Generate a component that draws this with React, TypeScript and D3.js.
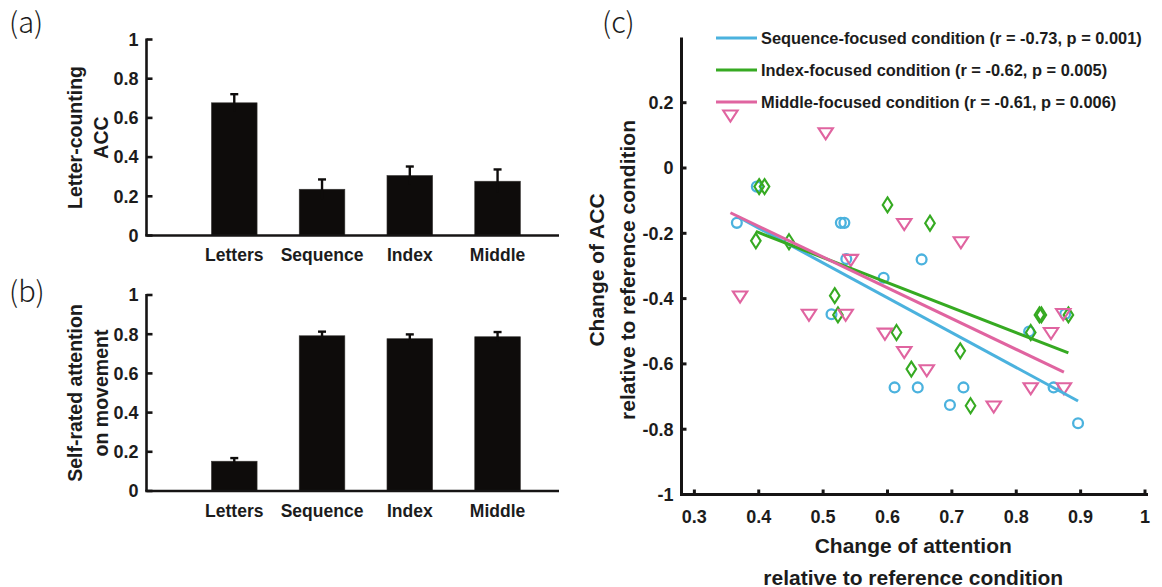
import React from 'react';
import * as d3 from 'd3';

// ---------- data ----------
const categories = ['Letters', 'Sequence', 'Index', 'Middle'];
const accMeans = [0.677, 0.236, 0.306, 0.277];
const accErrors = [0.044, 0.05, 0.046, 0.06];
const attnMeans = [0.152, 0.792, 0.777, 0.787];
const attnErrors = [0.016, 0.021, 0.022, 0.024];
const barTicks = [0, 0.2, 0.4, 0.6, 0.8, 1];

const seqX = [0.366, 0.397, 0.5275, 0.533, 0.536, 0.653, 0.513, 0.594, 0.611, 0.647, 0.718, 0.697, 0.876, 0.82, 0.858, 0.896];
const seqY = [-0.168, -0.057, -0.168, -0.168, -0.279, -0.28, -0.448, -0.336, -0.672, -0.672, -0.672, -0.726, -0.447, -0.501, -0.672, -0.782];
const idxX = [0.4006, 0.409, 0.3955, 0.447, 0.6, 0.666, 0.518, 0.523, 0.614, 0.637, 0.713, 0.729, 0.836, 0.839, 0.881, 0.8225];
const idxY = [-0.057, -0.057, -0.223, -0.226, -0.113, -0.169, -0.391, -0.45, -0.504, -0.616, -0.56, -0.728, -0.45, -0.45, -0.45, -0.504];
const midX = [0.356, 0.504, 0.543, 0.626, 0.714, 0.371, 0.478, 0.535, 0.596, 0.626, 0.661, 0.765, 0.873, 0.854, 0.8225, 0.874];
const midY = [0.16, 0.106, -0.282, -0.172, -0.228, -0.394, -0.45, -0.45, -0.508, -0.564, -0.62, -0.731, -0.448, -0.506, -0.675, -0.675];

const legendLabels = [
  'Sequence-focused condition (r = -0.73, p = 0.001)',
  'Index-focused condition (r = -0.62, p = 0.005)',
  'Middle-focused condition (r = -0.61, p = 0.006)',
];
const scatterXTicks = [0.3, 0.4, 0.5, 0.6, 0.7, 0.8, 0.9, 1];
const scatterYTicks = [-1, -0.8, -0.6, -0.4, -0.2, 0, 0.2];

// ---------- styles ----------
const FONT = "'Liberation Sans', Arial, Helvetica, sans-serif";
const BLUE = '#4bb2de';
const GREEN = '#36aa22';
const PINK = '#e064a0';
const AXIS = '#161414';
const TXT = '#1c1c1c';

function fmt(v: number) {
  if (Math.abs(v) < 1e-9) return '0';
  return String(Math.round(v * 10) / 10);
}

function regression(xs: number[], ys: number[]) {
  const mx = d3.mean(xs)!;
  const my = d3.mean(ys)!;
  let sxy = 0, sxx = 0;
  xs.forEach((x, i) => { sxy += (x - mx) * (ys[i] - my); sxx += (x - mx) * (x - mx); });
  const b = sxy / sxx;
  const a = my - b * mx;
  const x0 = d3.min(xs)!, x1 = d3.max(xs)!;
  return [[x0, a + b * x0], [x1, a + b * x1]] as [number, number][];
}

function BarPanel({ means, errors, top, bottom, labels }: { means: number[]; errors: number[]; top: number; bottom: number; labels: string[] }) {
  const x = d3.scaleLinear().domain([0, 4.7]).range([146.5, 559]);
  const y = d3.scaleLinear().domain([0, 1]).range([bottom, top]);
  const bw = x(0.52) - x(0);
  const labelCy = (top + bottom) / 2;
  return (
    <g>
      {means.map((m, i) => (
        <rect key={'b' + i} x={x(i + 1) - bw / 2} y={y(m)} width={bw} height={y(0) - y(m)} fill="#0e0c0b" stroke="#3a3836" strokeWidth={0.6} />
      ))}
      {means.map((m, i) => (
        <g key={'e' + i} stroke="#0e0c0b" strokeWidth={2.4}>
          <line x1={x(i + 1)} x2={x(i + 1)} y1={y(m - errors[i])} y2={y(m + errors[i])} />
          <line x1={x(i + 1) - 4} x2={x(i + 1) + 4} y1={y(m + errors[i])} y2={y(m + errors[i])} />
        </g>
      ))}
      <line x1={x(0)} x2={x(0)} y1={y(0)} y2={y(1) - 1} stroke={AXIS} strokeWidth={2.6} />
      <line x1={x(0) - 1.3} x2={x(4.7)} y1={y(0)} y2={y(0)} stroke={AXIS} strokeWidth={2.6} />
      {barTicks.map((t) => (
        <g key={'t' + t}>
          <line x1={x(0)} x2={x(0) + 6} y1={y(t)} y2={y(t)} stroke={AXIS} strokeWidth={2.6} />
          <text x={x(0) - 8} y={y(t) + 6.3} textAnchor="end" fontFamily={FONT} fontWeight="bold" fontSize={18} fill={TXT}>{fmt(t)}</text>
        </g>
      ))}
      {categories.map((c, i) => (
        <text key={'c' + i} x={x(i + 1)} y={y(0) + 25.5} textAnchor="middle" fontFamily={FONT} fontWeight="bold" fontSize={17.5} fill={TXT}>{c}</text>
      ))}
      <text transform={`translate(${75 + 6.8},${labelCy}) rotate(-90)`} textAnchor="middle" fontFamily={FONT} fontWeight="bold" fontSize={19.5} fill={TXT}>{labels[0]}</text>
      <text transform={`translate(${101 + 6.8},${labelCy}) rotate(-90)`} textAnchor="middle" fontFamily={FONT} fontWeight="bold" fontSize={19.5} fill={TXT}>{labels[1]}</text>
    </g>
  );
}

function ScatterPanel() {
  const x = d3.scaleLinear().domain([0.28, 1.0]).range([681.5, 1145]);
  const y = d3.scaleLinear().domain([-1, 0.4]).range([494.5, 37.4]);
  const series = [
    { xs: seqX, ys: seqY, color: BLUE, shape: 'circle' },
    { xs: idxX, ys: idxY, color: GREEN, shape: 'diamond' },
    { xs: midX, ys: midY, color: PINK, shape: 'triangle' },
  ];
  const line = d3.line<[number, number]>().x((d) => x(d[0])).y((d) => y(d[1]));
  const marker = (shape: string, cx: number, cy: number, color: string, key: string) => {
    if (shape === 'circle') return <circle key={key} cx={cx} cy={cy} r={4.9} fill="none" stroke={color} strokeWidth={2.3} />;
    if (shape === 'diamond') return <path key={key} d={`M${cx},${cy - 7.5}L${cx + 4.8},${cy}L${cx},${cy + 7.5}L${cx - 4.8},${cy}Z`} fill="none" stroke={color} strokeWidth={2.1} />;
    return <path key={key} d={`M${cx - 7.2},${cy - 5.2}L${cx + 7.2},${cy - 5.2}L${cx},${cy + 5.9}Z`} fill="none" stroke={color} strokeWidth={2.1} />;
  };
  const legendY = [38, 70, 102];
  const cy = 270;
  return (
    <g>
      {series.map((s, si) => (
        <g key={'s' + si}>{s.xs.map((v, i) => marker(s.shape, x(v), y(s.ys[i]), s.color, `m${si}-${i}`))}</g>
      ))}
      {series.map((s, si) => (
        <path key={'r' + si} d={line(regression(s.xs, s.ys)) || ''} fill="none" stroke={s.color} strokeWidth={3} />
      ))}
      {/* axes */}
      <line x1={x(0.28)} x2={x(0.28)} y1={y(-1)} y2={y(0.4)} stroke={AXIS} strokeWidth={3} />
      <line x1={x(0.28) - 1.5} x2={x(1) + 3} y1={y(-1)} y2={y(-1)} stroke={AXIS} strokeWidth={3} />
      {scatterYTicks.map((t) => (
        <g key={'yt' + t}>
          <line x1={x(0.28)} x2={x(0.28) + 5} y1={y(t)} y2={y(t)} stroke={AXIS} strokeWidth={3} />
          <text x={x(0.28) - 8} y={y(t) + 6.3} textAnchor="end" fontFamily={FONT} fontWeight="bold" fontSize={18} fill={TXT}>{fmt(t)}</text>
        </g>
      ))}
      {scatterXTicks.map((t) => (
        <g key={'xt' + t}>
          <line x1={x(t)} x2={x(t)} y1={y(-1)} y2={y(-1) - 5} stroke={AXIS} strokeWidth={3} />
          <text x={x(t)} y={y(-1) + 28} textAnchor="middle" fontFamily={FONT} fontWeight="bold" fontSize={18} fill={TXT}>{fmt(t)}</text>
        </g>
      ))}
      <text x={(x(0.28) + x(1)) / 2} y={552.5} textAnchor="middle" fontFamily={FONT} fontWeight="bold" fontSize={21} fill={TXT}>Change of attention</text>
      <text x={(x(0.28) + x(1)) / 2} y={584.5} textAnchor="middle" fontFamily={FONT} fontWeight="bold" fontSize={21} fill={TXT}>relative to reference condition</text>
      <text transform={`translate(${597 + 7.4},${cy}) rotate(-90)`} textAnchor="middle" fontFamily={FONT} fontWeight="bold" fontSize={21} fill={TXT}>Change of ACC</text>
      <text transform={`translate(${628 + 7.4},${cy}) rotate(-90)`} textAnchor="middle" fontFamily={FONT} fontWeight="bold" fontSize={21} fill={TXT}>relative to reference condition</text>
      {/* legend */}
      {series.map((s, si) => (
        <g key={'l' + si}>
          <line x1={716} x2={757} y1={legendY[si]} y2={legendY[si]} stroke={s.color} strokeWidth={3} />
          <text x={761} y={legendY[si] + 5.8} fontFamily={FONT} fontWeight="bold" fontSize={16.4} fill={TXT}>{legendLabels[si]}</text>
        </g>
      ))}
    </g>
  );
}

export default function App() {
  const panelFont = "'Noto Sans CJK SC', 'Noto Sans', sans-serif";
  return (
    <svg width={1162} height={587} viewBox="0 0 1162 587" style={{ position: 'absolute', left: 0, top: 0, background: '#fff' }}>
      <rect width={1162} height={587} fill="#fff" />
      <BarPanel means={accMeans} errors={accErrors} top={39.5} bottom={235.5} labels={['Letter-counting', 'ACC']} />
      <BarPanel means={attnMeans} errors={attnErrors} top={295} bottom={491} labels={['Self-rated attention', 'on movement']} />
      <ScatterPanel />
      <text x={9} y={33} fontFamily={panelFont} fontWeight={300} fontSize={29} fill={TXT}>(a)</text>
      <text x={9} y={302} fontFamily={panelFont} fontWeight={300} fontSize={29} fill={TXT}>(b)</text>
      <text x={602} y={33} fontFamily={panelFont} fontWeight={300} fontSize={29} fill={TXT}>(c)</text>
    </svg>
  );
}
